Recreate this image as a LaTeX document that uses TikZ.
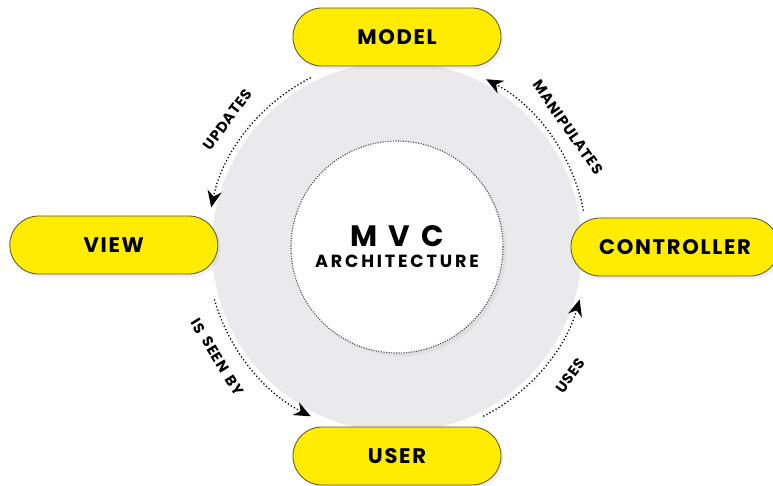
\documentclass[tikz,border=0pt]{standalone}
\usepackage{fontspec}
\setmainfont{Poppins}
\usetikzlibrary{positioning,arrows.meta,shadows}
\definecolor{mvcyellow}{RGB}{255,236,0}
\definecolor{mvcedge}{RGB}{95,85,45}
\definecolor{mvcgrey}{RGB}{234,234,236}

\begin{document}
\begin{tikzpicture}[auto]

    % Styles
    \tikzstyle{pill} = [rectangle, rounded corners=0.72cm, minimum width=5.2cm, minimum height=1.45cm, text centered, draw=mvcedge, line width=0.6pt, fill=mvcyellow, drop shadow={opacity=0.12, shadow xshift=0.06cm, shadow yshift=-0.08cm}, font=\fontsize{15}{17}\selectfont\bfseries\addfontfeature{LetterSpace=8}]
    \tikzstyle{disk} = [circle, minimum size=9.25cm, fill=mvcgrey]
    \tikzstyle{core} = [circle, minimum size=5.3cm, align=center, fill=white, draw=black!70, densely dotted, line width=0.8pt, drop shadow={opacity=0.1, shadow xshift=0.08cm, shadow yshift=-0.08cm}]
    \tikzstyle{tag} = [font=\fontsize{10.5}{12}\selectfont\bfseries\addfontfeature{LetterSpace=5}]
    \tikzstyle{flow} = [line width=0.9pt, dash pattern=on 0.9pt off 1.6pt, -{Stealth[length=4.2mm, width=3.6mm, line width=0pt]}]

    \useasboundingbox (-9.925,-5.95) rectangle (9.4,6.175);

    % Nodes
    \node (disk) [disk] at (0,0) {};
    \node (mvc) [core] at (0,0) {{\fontsize{21}{23}\selectfont\bfseries\addfontfeature{LetterSpace=38}MVC}\\[3pt]
        {\fontsize{12.5}{14}\selectfont\bfseries\addfontfeature{LetterSpace=16}ARCHITECTURE}};
    \node (model) [pill, above of=mvc, node distance=5.25cm] {MODEL};
    \node (user) [pill, below of=mvc, node distance=5.225cm] {USER};
    \node (view) [pill, left of=mvc, node distance=7.08cm, yshift=0.05cm] {VIEW};
    \node (controller) [pill, right of=mvc, node distance=6.95cm] {CONTROLLER};

    % Arrows
    \coordinate (upd-start) at (117:4.75);
    \coordinate (man-start) at (11:4.75);
    \coordinate (see-start) at (196:4.75);
    \coordinate (use-start) at (-63:4.75);
    \draw [flow] (upd-start) arc (117:168:4.75);
    \draw [flow] (man-start) arc (11:62:4.75);
    \draw [flow] (see-start) arc (196:243:4.75);
    \draw [flow] (use-start) arc (-63:-16:4.75);

    % Labels
    \node (updates) [tag, rotate=53] at (143:5.3) {UPDATES};
    \node (manipulates) [tag, rotate=-55] at (35:5.22) {MANIPULATES};
    \node (seenby) [tag, rotate=-58.5] at (211.5:5.27) {IS\hspace{0.2em} SEEN\hspace{0.2em} BY};
    \node (uses) [tag, rotate=53.5] at (-36.5:5.4) {USES};

\end{tikzpicture}
\end{document}
